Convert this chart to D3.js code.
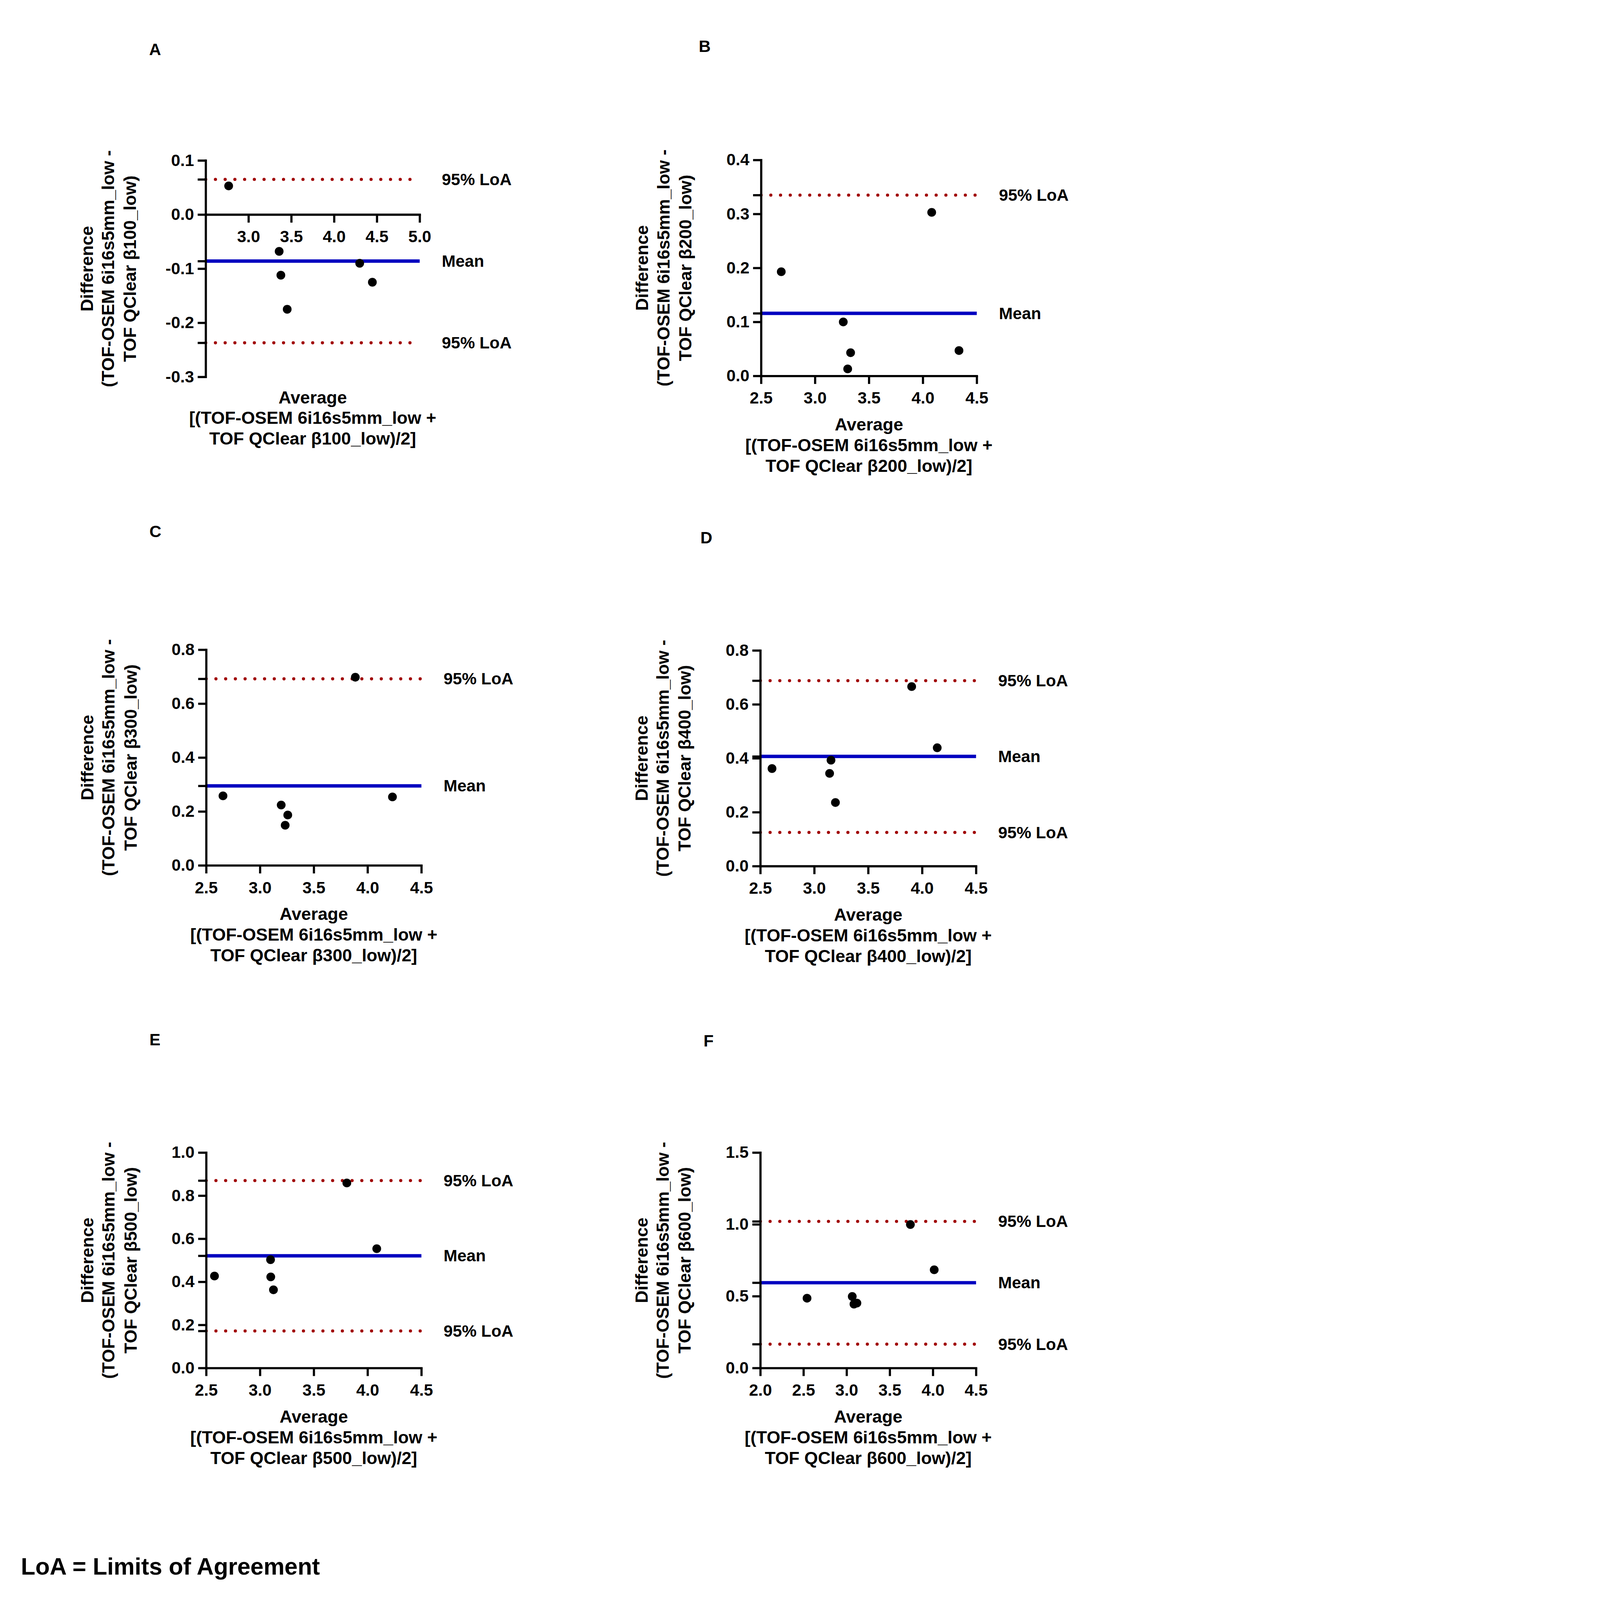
<!DOCTYPE html>
<html>
<head>
<meta charset="utf-8">
<script src="https://cdn.jsdelivr.net/npm/d3@7"></script>
<style>
  html, body { margin: 0; padding: 0; background: #fff; overflow: hidden; }
  #chart svg { display: block; width: 100vw; height: 100vh; }
  svg text { font-family: Arial, 'Liberation Sans', Helvetica, sans-serif; font-weight: bold; fill: #000; }
</style>
</head>
<body>
<div id="chart"></div>
<script>
// panels A-F, Bland-Altman plots
const panelLetters = ['A', 'B', 'C', 'D', 'E', 'F'];
const betaLabels = ['β100', 'β200', 'β300', 'β400', 'β500', 'β600'];

const averages = [
    [2.768, 3.358, 3.378, 3.452, 4.299, 4.447],
    [2.687, 3.262, 3.330, 3.303, 4.082, 4.335],
    [2.656, 3.197, 3.258, 3.234, 3.886, 4.231],
    [2.608, 3.155, 3.142, 3.196, 3.903, 4.140],
    [2.577, 3.098, 3.100, 3.125, 3.807, 4.085],
    [2.541, 3.065, 3.085, 3.119, 3.739, 4.015]
];
const differences = [
    [0.053, -0.068, -0.112, -0.175, -0.090, -0.125],
    [0.193, 0.100, 0.043, 0.013, 0.303, 0.047],
    [0.258, 0.224, 0.187, 0.149, 0.698, 0.254],
    [0.362, 0.393, 0.344, 0.236, 0.666, 0.439],
    [0.427, 0.503, 0.423, 0.363, 0.859, 0.554],
    [0.486, 0.498, 0.445, 0.452, 0.999, 0.684]
];
const meanDiff = [-0.086, 0.116, 0.295, 0.407, 0.521, 0.594];
const upperLoA = [0.065, 0.335, 0.692, 0.688, 0.870, 1.021];
const lowerLoA = [-0.237, -0.103, -0.102, 0.125, 0.172, 0.166];

const xDomains = [[2.5, 5.0], [2.5, 4.5], [2.5, 4.5], [2.5, 4.5], [2.5, 4.5], [2.0, 4.5]];
const yDomains = [[-0.3, 0.1], [0, 0.4], [0, 0.8], [0, 0.8], [0, 1.0], [0, 1.5]];
const xTickValues = [
    [3.0, 3.5, 4.0, 4.5, 5.0],
    [2.5, 3.0, 3.5, 4.0, 4.5],
    [2.5, 3.0, 3.5, 4.0, 4.5],
    [2.5, 3.0, 3.5, 4.0, 4.5],
    [2.5, 3.0, 3.5, 4.0, 4.5],
    [2.0, 2.5, 3.0, 3.5, 4.0, 4.5]
];
const yTickValues = [
    [-0.3, -0.2, -0.1, 0.0, 0.1],
    [0.0, 0.1, 0.2, 0.3, 0.4],
    [0.0, 0.2, 0.4, 0.6, 0.8],
    [0.0, 0.2, 0.4, 0.6, 0.8],
    [0.0, 0.2, 0.4, 0.6, 0.8, 1.0],
    [0.0, 0.5, 1.0, 1.5]
];
const footnote = 'LoA = Limits of Agreement';

// plot boxes in page pixels
const layout = [
    {left: 846, top: 660, width: 880, height: 890, lx: 638, ly: 203},
    {left: 3130, top: 658, width: 887, height: 888, lx: 2898, ly: 191},
    {left: 848, top: 2672, width: 885, height: 887, lx: 639, ly: 2185},
    {left: 3127, top: 2675, width: 887, height: 887, lx: 2905, ly: 2212},
    {left: 848, top: 4740, width: 885, height: 886, lx: 637, ly: 4275},
    {left: 3127, top: 4740, width: 887, height: 886, lx: 2914, ly: 4281}
];

const width = 4521;
const height = 6580;
const fontSize = 68;
const titleSize = 72;
const tickLen = 33;
const axisWidth = 9;
const meanColor = '#0000c0';
const loaColor = '#a00000';

const svg = d3.select('#chart').append('svg')
    .attr('viewBox', `0 0 ${width} ${height}`)
    .attr('preserveAspectRatio', 'xMinYMin meet');

svg.append('rect').attr('width', width).attr('height', height).attr('fill', '#fff');

let fmt = d => d.toFixed(1);

panelLetters.forEach((letter, i) => {
    let box = layout[i];
    let x = d3.scaleLinear().domain(xDomains[i]).range([0, box.width]);
    let y = d3.scaleLinear().domain(yDomains[i]).range([box.height, 0]);
    let yLo = yDomains[i][0], yHi = yDomains[i][1];

    let g = svg.append('g').attr('transform', `translate(${box.left}, ${box.top})`);

    svg.append('text')
        .attr('x', box.lx).attr('y', box.ly)
        .attr('text-anchor', 'middle')
        .attr('dominant-baseline', 'central')
        .attr('font-size', fontSize)
        .text(letter);

    // reference lines
    let lines = [{v: upperLoA[i], kind: 'loa', label: '95% LoA'},
                 {v: meanDiff[i], kind: 'mean', label: 'Mean'},
                 {v: lowerLoA[i], kind: 'loa', label: '95% LoA'}]
        .filter(l => l.v >= yLo && l.v <= yHi);

    g.selectAll('line.ref').data(lines).enter().append('line')
        .attr('class', 'ref')
        .attr('x1', 0)
        .attr('x2', box.width)
        .attr('y1', l => y(l.v))
        .attr('y2', l => y(l.v))
        .attr('stroke', l => l.kind === 'mean' ? meanColor : loaColor)
        .attr('stroke-width', l => l.kind === 'mean' ? 14 : 13)
        .attr('stroke-linecap', l => l.kind === 'mean' ? 'butt' : 'round')
        .attr('stroke-dasharray', l => l.kind === 'mean' ? null : '0,40');

    g.selectAll('text.ref').data(lines).enter().append('text')
        .attr('class', 'ref')
        .attr('x', box.width + 91)
        .attr('y', l => y(l.v))
        .attr('dominant-baseline', 'central')
        .attr('font-size', fontSize)
        .text(l => l.label);

    // points
    let pts = averages[i].map((a, k) => ({a: a, d: differences[i][k]}));
    g.selectAll('circle').data(pts).enter().append('circle')
        .attr('cx', p => x(p.a))
        .attr('cy', p => y(p.d))
        .attr('r', 18)
        .attr('fill', '#000');

    // axes
    let xAxisY = (yLo < 0 && yHi > 0) ? y(0) : box.height;
    let xAxis = g.append('g')
        .attr('transform', `translate(0, ${xAxisY})`)
        .call(d3.axisBottom(x).tickValues(xTickValues[i]).tickSize(tickLen).tickSizeOuter(0)
            .tickPadding(33).tickFormat(fmt));

    let yAxis = g.append('g')
        .call(d3.axisLeft(y).tickValues(yTickValues[i]).tickSize(tickLen).tickSizeOuter(0)
            .tickPadding(15).tickFormat(fmt));

    let extraTicks = g.append('g')
        .call(d3.axisLeft(y).tickValues(lines.map(l => l.v)).tickSize(tickLen).tickSizeOuter(0)
            .tickFormat(''));
    extraTicks.select('.domain').remove();

    [xAxis, yAxis, extraTicks].forEach(a => {
        a.select('.domain').attr('stroke', '#000').attr('stroke-width', axisWidth).attr('stroke-linecap', 'square');
        a.selectAll('.tick line').attr('stroke', '#000').attr('stroke-width', axisWidth);
        a.selectAll('.tick text')
            .attr('font-size', fontSize)
            .attr('font-family', "Arial, 'Liberation Sans', sans-serif")
            .attr('font-weight', 'bold')
            .attr('fill', '#000');
    });

    // axis titles
    let yTitle = ['Difference', '(TOF-OSEM 6i16s5mm_low -', `TOF QClear ${betaLabels[i]}_low)`];
    let yOffsets = [-490, -403, -312];
    yTitle.forEach((t, k) => {
        g.append('text')
            .attr('transform', `translate(${yOffsets[k]}, ${box.height / 2}) rotate(-90)`)
            .attr('text-anchor', 'middle')
            .attr('dominant-baseline', 'central')
            .attr('font-size', titleSize)
            .text(t);
    });

    let xTitle = ['Average', '[(TOF-OSEM 6i16s5mm_low +', `TOF QClear ${betaLabels[i]}_low)/2]`];
    let titleStart = xAxisY === box.height ? 199 : 83;
    xTitle.forEach((t, k) => {
        g.append('text')
            .attr('x', box.width / 2)
            .attr('y', box.height + titleStart + k * 85)
            .attr('text-anchor', 'middle')
            .attr('dominant-baseline', 'central')
            .attr('font-size', titleSize)
            .text(t);
    });
});

svg.append('text')
    .attr('x', 86)
    .attr('y', 6476)
    .attr('font-size', 97)
    .text(footnote);
</script>
</body>
</html>
